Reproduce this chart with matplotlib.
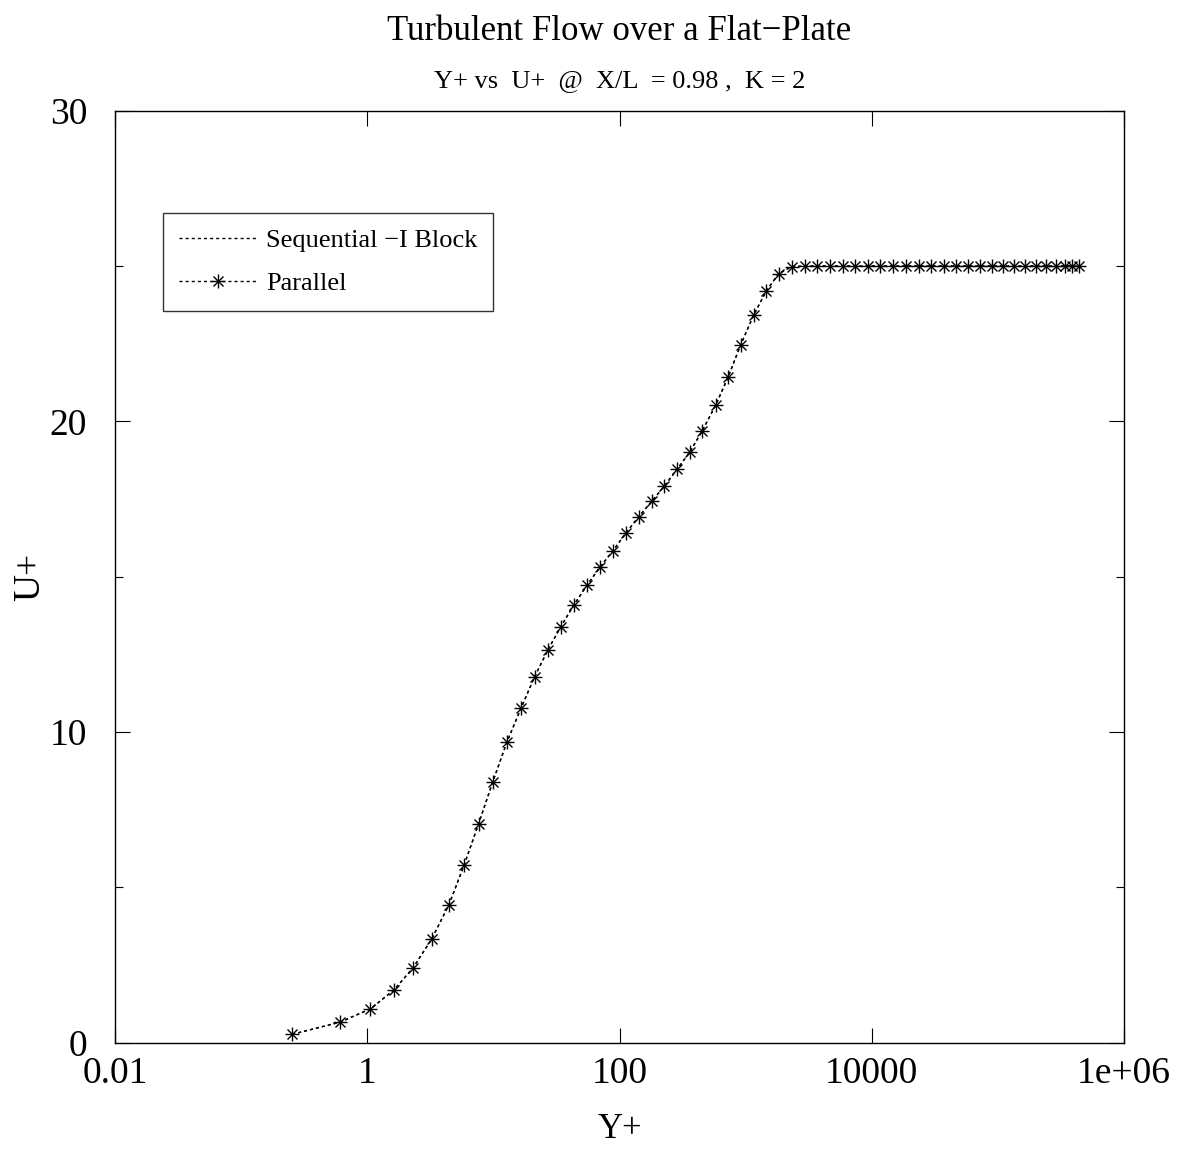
import matplotlib
matplotlib.use('Agg')
import matplotlib.pyplot as plt
from matplotlib.lines import Line2D
from matplotlib.ticker import FixedLocator, FixedFormatter, NullLocator

plt.rcParams['font.family'] = ['Liberation Serif', 'DejaVu Serif']
plt.rcParams['mathtext.fontset'] = 'stix'

# wall-normal profile at X/L = 0.98, K = 2
y_plus = [0.254, 0.607, 1.06, 1.63, 2.31, 3.23, 4.43, 5.86, 7.62, 9.89,
          12.8, 16.6, 21.2, 27.0, 34.2, 43.4, 55.3, 69.7, 88.8, 112,
          142, 180, 227, 286, 360, 453, 578, 728, 912, 1156,
          1456, 1832, 2317, 2951, 3704, 4699, 5915, 7413, 9333, 11700,
          14700, 18530, 23500, 29240, 37070, 46130, 57790, 71450, 89750, 108700,
          134000, 163700, 198500, 239400, 287700, 341300, 389900, 436500]
u_plus_seq = [0.27, 0.66, 1.09, 1.70, 2.41, 3.33, 4.43, 5.72, 7.04, 8.40,
              9.68, 10.78, 11.78, 12.64, 13.39, 14.09, 14.73, 15.30, 15.84, 16.40,
              16.93, 17.43, 17.92, 18.46, 19.01, 19.70, 20.52, 21.44, 22.46, 23.42,
              24.20, 24.76, 24.98, 25.0, 25.0, 25.0, 25.0, 25.0, 25.0, 25.0,
              25.0, 25.0, 25.0, 25.0, 25.0, 25.0, 25.0, 25.0, 25.0, 25.0,
              25.0, 25.0, 25.0, 25.0, 25.0, 25.0, 25.0, 25.0]
u_plus_par = list(u_plus_seq)

x_ticks = [0.01, 1, 100, 10000, 1e6]
x_labels = ['0.01', '1', '100', '10000', '1e+06']
y_major = [0, 10, 20, 30]
y_minor = [5, 15, 25]

DASH = (0, (2.2, 2.2))
MS = 10

fig = plt.figure(figsize=(11.87, 11.51), dpi=100)
ax = fig.add_axes([0.0969, 0.0941, 0.8501, 0.8097])

ax.plot(y_plus, u_plus_seq, color='black', lw=1.0, linestyle=DASH)
ax.plot(y_plus, u_plus_par, color='black', lw=1.0, linestyle=DASH,
        marker='+', markersize=MS, markeredgewidth=1.0)
ax.plot(y_plus, u_plus_par, linestyle='none', color='black',
        marker='x', markersize=MS * 0.75, markeredgewidth=1.0)

ax.set_xscale('log')
ax.set_xlim(0.01, 1e6)
ax.set_ylim(0, 30)

ax.xaxis.set_major_locator(FixedLocator(x_ticks))
ax.xaxis.set_major_formatter(FixedFormatter(x_labels))
ax.xaxis.set_minor_locator(NullLocator())
ax.yaxis.set_major_locator(FixedLocator(y_major))
ax.yaxis.set_minor_locator(FixedLocator(y_minor))

ax.tick_params(axis='both', which='major', direction='in', length=11, width=0.8,
               labelsize=27, top=True, right=True)
ax.tick_params(axis='x', which='major', pad=10)
ax.tick_params(axis='y', which='major', pad=20)
ax.tick_params(axis='both', which='minor', direction='in', length=6, width=0.8,
               top=True, right=True)
for s in ax.spines.values():
    s.set_linewidth(1.0)

ax.set_xlabel('Y+', fontsize=25, labelpad=16)
ax.set_ylabel('U+', fontsize=27, labelpad=2)

fig.text(0.522, 0.973, 'Turbulent Flow over a Flat\u2212Plate', ha='center',
         va='center', fontsize=25)
fig.text(0.522, 0.930, 'Y+ vs  U+  @  X/L  = 0.98 ,  K = 2', ha='center',
         va='center', fontsize=19)

handles = [
    Line2D([], [], color='black', lw=1.0, linestyle=DASH),
    (Line2D([], [], color='black', lw=1.0, linestyle=DASH, marker='+',
            markersize=MS, markevery=[0, -1], markeredgewidth=1.0),
     Line2D([], [], color='black', lw=0, marker='x', markersize=MS * 0.75,
            markevery=[0, -1], markeredgewidth=1.0)),
]
leg = ax.legend(handles, ['Sequential \u2212I Block', 'Parallel'],
                loc='upper left', bbox_to_anchor=(0.0476, 0.8906), fontsize=19,
                frameon=True, fancybox=False, edgecolor='black',
                handlelength=3.0, handletextpad=0.3, borderpad=0.6,
                labelspacing=0.75, borderaxespad=0)
leg.get_frame().set_linewidth(1.0)

fig.savefig('out.png', dpi=100)
